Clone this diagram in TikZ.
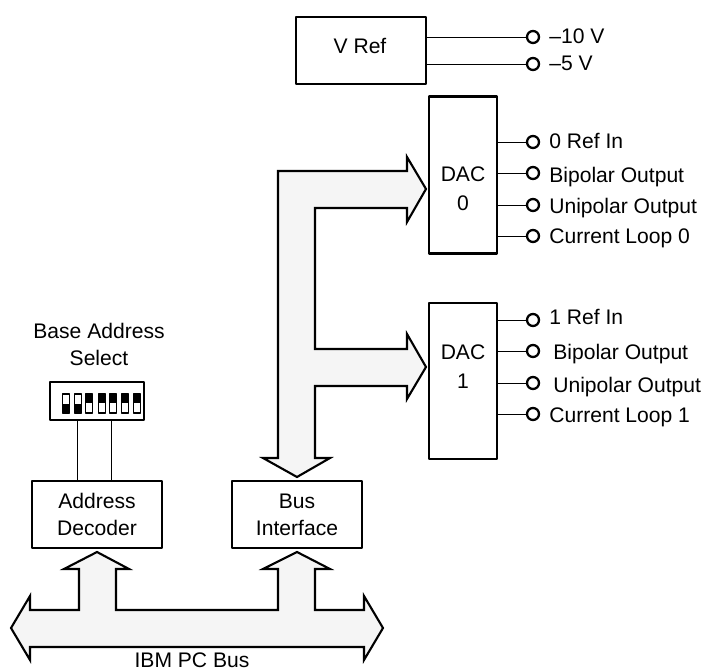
\documentclass[tikz,border=0pt]{standalone}
\usepackage{fontspec}
\setmainfont{Liberation Sans}
\tikzset{
	block/.style={draw, line width=1.2pt, inner sep=0pt, outer sep=0pt, align=center, font=\fontsize{12}{15.4}\selectfont},
	pin/.style={circle, draw, fill=white, line width=1.3pt, minimum size=0.24cm, inner sep=0pt, outer sep=0pt},
	pinlabel/.style={anchor=west, inner sep=0pt, font=\fontsize{12}{15.4}\selectfont},
	caption/.style={inner sep=0pt, align=center, font=\fontsize{12}{15.4}\selectfont},
	stub/.style={line width=0.5pt},
	bus/.style={draw, fill=black!4, line width=1.2pt, line join=miter, miter limit=10}
}
\begin{document}
\begin{tikzpicture}[x=0.02cm, y=-0.02cm, line join=round, line cap=butt]
	\useasboundingbox (0,0) rectangle (705,671);
	% blocks
	\node[block, minimum width=2.6cm, minimum height=1.34cm] (vref) at (361,50.5) {};
	\node[caption] (vreftext) at (360,45.5) {V Ref};
	\node[block, minimum width=1.36cm, minimum height=3.14cm] (dac0) at (463,175) {};
	\node[caption] (dac0text) at (463,189) {DAC\\[1pt]0};
	\node[block, minimum width=1.36cm, minimum height=3.12cm] (dac1) at (463,381) {};
	\node[caption] (dac1text) at (463,366.5) {DAC\\[1pt]1};
	\node[block, minimum width=2.6cm, minimum height=1.34cm] (addr) at (97,514.5) {Address\\Decoder};
	\node[block, minimum width=2.6cm, minimum height=1.34cm] (busif) at (297,514.5) {Bus\\Interface};
	% output pins
	\foreach \n/\s/\y/\lx/\ly/\t in {
		a/vref/37/549/36/{--10 V}, b/vref/64/549/63/{--5 V},
		c/dac0/142/549/141/{0 Ref In}, d/dac0/173/549/177/{Bipolar Output},
		e/dac0/205/549/208/{Unipolar Output}, f/dac0/236/549/238/{Current Loop 0},
		g/dac1/320/549/317/{1 Ref In}, h/dac1/351/553/354/{Bipolar Output},
		i/dac1/383/553/387/{Unipolar Output}, j/dac1/414/549/417/{Current Loop 1}}{
		\node[pin] (pin\n) at (533,\y) {};
		\draw[stub] (\s.east |- pin\n) -- (pin\n);
		\node[pinlabel] (lab\n) at (\lx,\ly) {\t};
	}
	% wide bus arrows
	\draw[bus] (426,189)--(407,157)--(407,171)--(278,171)--(278,458)--(263,458)--(297,477)--(330,458)--(315,458)
		--(315,386)--(407,386)--(407,399)--(426,367)--(407,334)--(407,349)--(315,349)--(315,208)--(407,208)--(407,222)--cycle;
	\draw[bus] (11,628)--(30,596)--(30,610)--(79,610)--(79,569)--(64,569)--(97,552)--(129,569)--(116,569)--(116,610)
		--(278,610)--(278,569)--(263,569)--(297,552)--(330,569)--(315,569)--(315,610)--(364,610)--(364,596)--(383,628)
		--(364,660)--(364,647)--(30,647)--(30,660)--cycle;
	\node[caption] (pcbus) at (192,660.5) {IBM PC Bus};
	% address switch
	\node[caption] (select) at (99,344.5) {Base Address\\Select};
	\node[draw, line width=1.2pt, inner sep=0pt, outer sep=0pt, minimum width=1.88cm, minimum height=0.76cm] (dip) at (97,401) {};
	\foreach \x/\k in {66/1,78/1,89/0,102/0,113/0,125/0,137/0}{
		\draw[line width=0.7pt] (\x-3.2,394) rectangle (\x+3.2,413);
		\ifnum\k=1
			\fill (\x-3.2,404) rectangle (\x+3.2,413);
		\else
			\fill (\x-3.2,394) rectangle (\x+3.2,403);
		\fi
	}
	\coordinate (wirea) at (77,0);
	\coordinate (wireb) at (111,0);
	\draw[stub] (dip.south -| wirea) -- (addr.north -| wirea);
	\draw[stub] (dip.south -| wireb) -- (addr.north -| wireb);
\end{tikzpicture}
\end{document}
